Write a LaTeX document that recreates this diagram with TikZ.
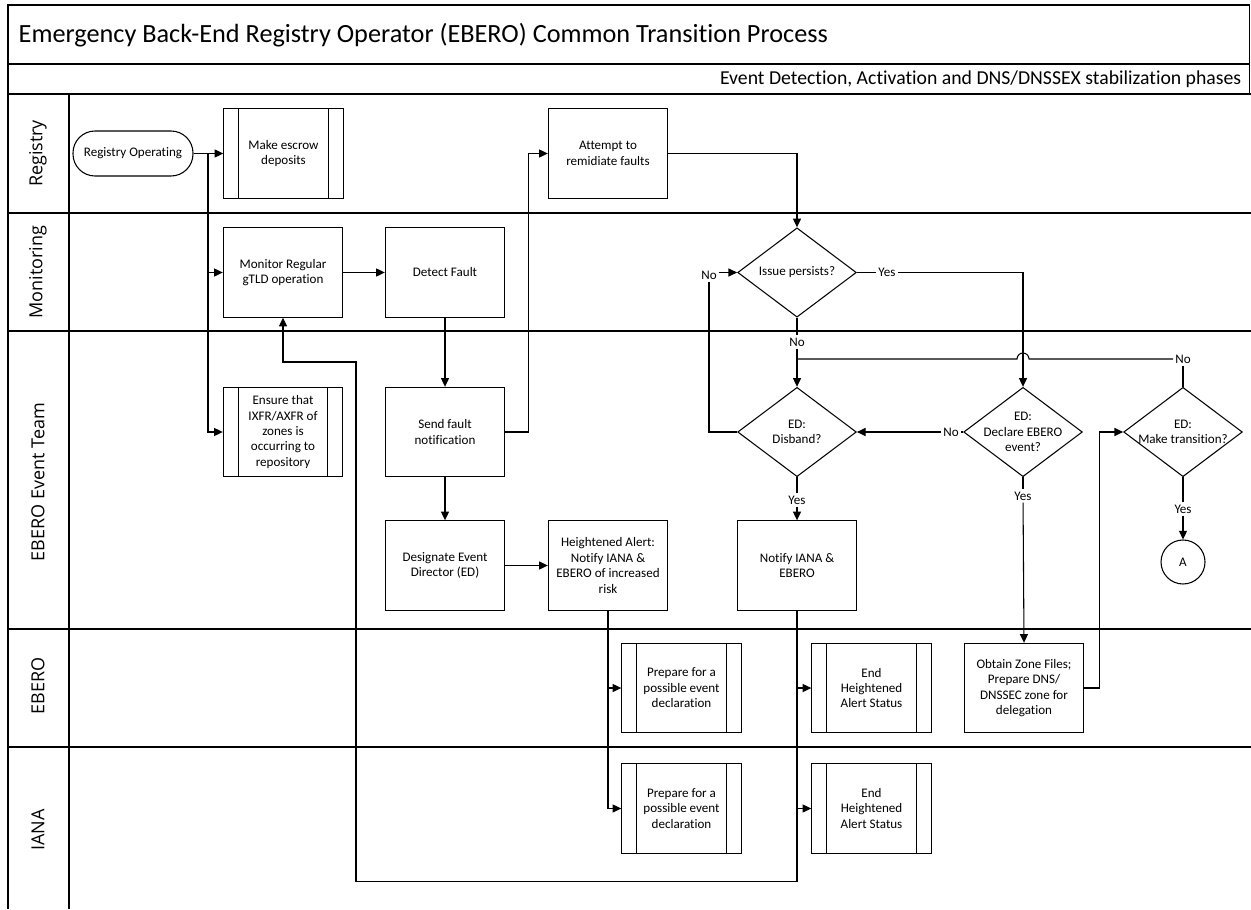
\documentclass[tikz,border=0pt]{standalone}
\usepackage{fontspec}
\setmainfont{Carlito}[Ligatures=NoCommon]
\newfontfamily\lanefont{Open Sans}
\usepackage{tikz}
\usetikzlibrary{arrows.meta,shapes.geometric}

\begin{document}
\begin{tikzpicture}[x=0.75pt,y=-0.75pt,
	every node/.style={font=\fontsize{9.8}{11.6}\selectfont, align=center},
	frame/.style={line width=1.2pt},
	line/.style={line width=0.8pt},
	flow/.style={line width=0.8pt, -{Triangle[length=6.5pt,width=6pt]}},
	proc/.style={draw, line width=0.8pt, minimum width=89.5pt, minimum height=67pt, inner sep=1pt},
	subproc/.style={proc, path picture={
		\draw[line width=0.8pt] ([xshift=11.25pt]path picture bounding box.north west) -- ([xshift=11.25pt]path picture bounding box.south west)
			([xshift=-11.25pt]path picture bounding box.north east) -- ([xshift=-11.25pt]path picture bounding box.south east);}},
	decision/.style={diamond, draw, line width=0.8pt, minimum width=89pt, minimum height=67pt, inner sep=0pt},
	terminal/.style={draw, line width=0.8pt, rounded corners=16.5pt, minimum width=90pt, minimum height=33.75pt},
	connector/.style={circle, draw, line width=0.8pt, minimum size=33pt, inner sep=0pt},
	lbl/.style={fill=white, inner sep=1.5pt},
	lanehead/.style={rotate=90, font=\lanefont\fontsize{13.5}{15}\selectfont}
]
	\useasboundingbox (0,0) rectangle (1251,909);

	% pool and lanes
	\draw[frame] (8,909) -- (8,5) -- (1249.5,5) -- (1249.5,94);
	\draw[frame] (8,64) -- (1249.5,64);
	\draw[frame] (8,94) -- (1251,94);
	\foreach \y in {213,331,629,747}
		\draw[frame] (8,\y) -- (1251,\y);
	\draw[frame] (69,94) -- (69,909);

	\node[anchor=base west, font=\fontsize{19.7}{22}\selectfont] (title) at (14,43) {Emergency Back-End Registry Operator (EBERO) Common Transition Process};
	\node[anchor=base east, font=\fontsize{14.8}{17}\selectfont] (phase) at (1246,85) {Event Detection, Activation and DNS/DNSSEX stabilization phases};

	\foreach \y/\t [count=\i] in {153.5/Registry, 272/Monitoring, 482/EBERO Event Team, 686/EBERO, 830/IANA}
		\node[lanehead] (lane\i) at (38,\y) {\t};

	% Registry
	\node[terminal] (regop) at (133,153.5) {Registry Operating};
	\node[subproc] (escrow) at (283.5,153.5) {Make escrow\\deposits};
	\node[proc] (attempt) at (608,153.5) {Attempt to\\remidiate faults};

	% Monitoring
	\node[proc] (monitor) at (283,272.5) {Monitor Regular\\gTLD operation};
	\node[proc] (detect) at (445,272.5) {Detect Fault};
	\node[decision, label={center:Issue persists?}] (issue) at (797,272.5) {};

	% EBERO Event Team
	\node[subproc] (ensure) at (283,432) {Ensure that\\IXFR/AXFR of\\zones is\\occurring to\\repository};
	\node[proc] (send) at (445,432) {Send fault\\notification};
	\node[proc] (designate) at (445,565.5) {Designate Event\\Director (ED)};
	\node[proc] (alert) at (608,565.5) {Heightened Alert:\\Notify IANA \&\\EBERO of increased\\risk};
	\node[decision, label={center:ED:\\Disband?}] (disband) at (797,432) {};
	\node[proc] (notify) at (797,565.5) {Notify IANA \&\\EBERO};
	\node[decision, label={center:ED:\\Declare EBERO\\event?}] (declare) at (1023,432) {};
	\node[decision, label={center:ED:\\Make transition?}] (trans) at (1183,432) {};
	\node[connector] (nodeA) at (1183,562) {A};

	% EBERO
	\node[subproc] (prepE) at (681.5,688) {Prepare for a\\possible event\\declaration};
	\node[subproc] (endE) at (871.5,688) {End\\Heightened\\Alert Status};
	\node[proc] (obtain) at (1024,688) {Obtain Zone Files;\\Prepare DNS/\\DNSSEC zone for\\delegation};

	% IANA
	\node[subproc] (prepI) at (681.5,808.5) {Prepare for a\\possible event\\declaration};
	\node[subproc] (endI) at (871.5,808.5) {End\\Heightened\\Alert Status};

	% branch labels
	\node[lbl] (yes1) at (887,272.5) {Yes};
	\node[lbl] (no1) at (797,342) {No};
	\node[lbl] (no2) at (709,275) {No};
	\node[lbl] (no3) at (951,432) {No};
	\node[lbl] (yes2) at (1023,496) {Yes};
	\node[lbl] (yes3) at (797,500) {Yes};
	\node[lbl] (no4) at (1183,359) {No};
	\node[lbl] (yes4) at (1183,509) {Yes};

	\coordinate (fork) at (208,153.5);

	\draw[flow] (regop) -- (escrow);
	\draw[flow] (fork) |- (monitor.west);
	\draw[flow] (fork) |- (ensure.west);
	\draw[flow] (monitor) -- (detect);
	\draw[flow] (detect) -- (send);
	\draw[flow] (send) -- (designate);
	\draw[flow] (designate) -- (alert);
	\draw[flow] (send.east) -- ++(23,0) |- (attempt.west);
	\draw[flow] (attempt.east) -| (issue.north);
	\draw[line] (issue.east) -- (yes1);
	\draw[flow] (yes1) -| (declare.north);
	\draw[line] (issue.south) -- (no1);
	\draw[flow] (no1) -- (disband.north);
	\draw[line] (disband.west) -| (no2);
	\draw[flow] (no2.east |- issue.west) -- (issue.west);
	\draw[line] (declare.west) -- (no3);
	\draw[flow] (no3) -- (disband.east);
	\draw[line] (disband.south) -- (yes3);
	\draw[flow] (yes3) -- (notify.north);
	\draw[line] (declare.south) -- (yes2);
	\draw[flow] (yes2) -- (obtain.north);
	\draw[line] (trans.north) -- (no4);
	\draw[line] (no4) -- (1029,359) arc(0:-180:6) -- (797,359);
	\draw[line] (trans.south) -- (yes4);
	\draw[flow] (yes4) -- (nodeA.north);
	\draw[flow] (obtain.east) -- ++(15,0) |- (trans.west);
	\draw[flow] (alert.south) |- (prepE.west);
	\draw[flow] (alert.south) |- (prepI.west);
	\draw[flow] (notify.south) |- (endE.west);
	\draw[flow] (notify.south) |- (endI.west);
	\draw[flow] (notify.south) -- ++(0,271) -| (356,362) -| (monitor.south);
\end{tikzpicture}
\end{document}
